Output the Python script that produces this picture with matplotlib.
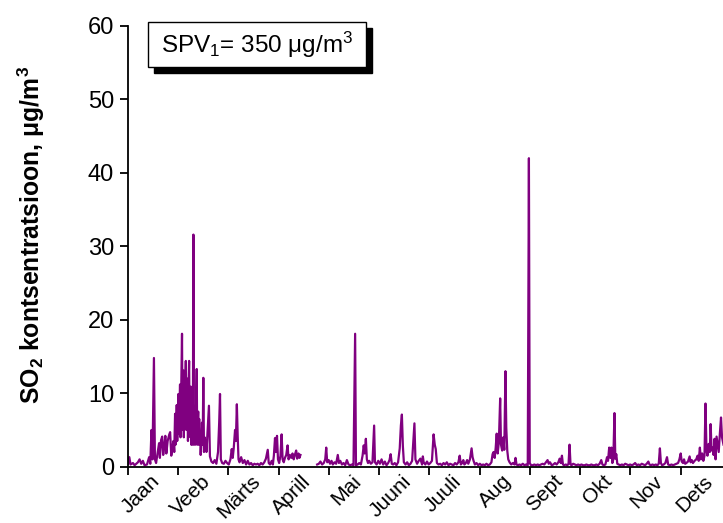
import matplotlib
matplotlib.use('Agg')
import matplotlib.pyplot as plt
import matplotlib.transforms as mtransforms
from matplotlib.patches import Rectangle
import numpy as np

plt.rcParams['font.family'] = ['Liberation Sans', 'DejaVu Sans']
plt.rcParams['mathtext.fontset'] = 'custom'
plt.rcParams['mathtext.rm'] = 'Liberation Sans'
plt.rcParams['mathtext.it'] = 'Liberation Sans:italic'
plt.rcParams['mathtext.bf'] = 'Liberation Sans:bold'

# ---- data: (day of year, SO2 concentration µg/m3) readings ----
months = ['Jaan', 'Veeb', 'Märts', 'Aprill', 'Mai', 'Juuni',
          'Juuli', 'Aug', 'Sept', 'Okt', 'Nov', 'Dets']

winter = [(0, 0.4), (0.8, 1.3), (1.5, 0.3), (3, 0.5), (4, 0.2), (6, 0.6), (7, 1.0), (8, 0.4),
          (9, 0.8), (10, 0.2), (11.5, 0.3), (12.8, 1.3), (13.5, 0.4), (14.2, 5.0), (14.8, 1.0),
          (15.7, 14.8), (16.3, 1.0), (17, 0.5), (18, 2.0), (18.8, 3.2), (19.3, 1.2), (20, 3.6),
          (20.7, 4.1), (21.3, 1.6), (22, 2.8), (22.6, 4.2), (23.2, 1.8), (24, 3.5), (25, 4.4),
          (25.5, 4.7), (26.2, 1.5), (27, 2.8), (27.5, 3.5), (28, 2.0), (28.3, 5.0), (28.5, 7.2),
          (28.8, 3.0), (29, 4.5), (29.3, 6.0), (29.5, 8.4), (29.8, 3.5), (30, 5.0), (30.3, 7.0),
          (30.5, 9.9), (30.8, 4.5), (31, 6.5), (31.3, 9.0), (31.5, 11.2), (31.8, 4.0), (32, 7.0),
          (32.3, 10.5), (32.7, 18.1), (33, 5.0), (33.2, 8.0), (33.6, 13.1), (33.8, 4.0), (34, 7.5),
          (34.3, 10.0), (34.5, 6.0), (34.8, 12.0), (35, 14.4), (35.3, 5.0), (35.5, 8.5), (35.8, 12.0),
          (36, 10.5), (36.3, 3.5), (36.5, 7.0), (36.8, 12.5), (37, 14.4), (37.3, 5.5), (37.5, 9.0),
          (37.8, 4.0), (38, 10.9), (38.3, 3.0), (38.7, 6.5), (39, 3.0), (39.3, 8.0), (39.6, 31.6),
          (39.9, 3.0), (40.2, 6.0), (40.5, 7.5), (40.8, 3.0), (41, 5.5), (41.3, 9.0), (41.6, 13.3),
          (41.9, 3.0), (42.1, 5.0), (42.5, 7.5), (42.8, 3.0), (43.1, 6.5), (43.4, 3.0), (43.7, 4.5),
          (44, 1.6), (44.4, 3.5), (44.8, 6.0), (45.2, 3.0), (45.6, 12.1), (46, 2.0), (46.4, 4.0),
          (46.8, 2.5), (47.2, 3.5), (47.5, 2.0), (48.3, 5.5), (49, 8.3), (49.6, 1.4), (50.5, 0.7),
          (51.5, 0.5), (52.5, 0.9), (53.5, 0.4), (54.5, 2.0), (55.2, 6.0), (55.7, 9.9), (56.2, 1.0),
          (57, 0.5), (58, 0.4), (59, 0.8)]

spring = [(60, 0.5), (61, 0.3), (62, 1.0), (62.8, 2.4), (63.4, 1.2), (64, 2.5), (64.8, 5.0),
          (65.3, 3.5), (65.9, 8.5), (66.4, 4.2), (66.9, 1.0), (67.5, 0.6), (68.5, 1.3), (69.5, 0.5),
          (70.5, 0.9), (71.5, 0.3), (72.5, 0.8), (73.5, 0.3), (74.5, 0.5), (75.5, 0.2), (76.5, 0.4),
          (77.5, 0.3), (78.5, 0.4), (79.5, 0.2), (80.5, 0.5), (81.5, 0.3), (82.5, 0.6), (83.5, 1.1),
          (84.6, 2.3), (85.2, 0.5), (86, 0.3), (87, 0.8), (87.7, 0.3), (88.3, 1.5), (89, 3.9),
          (89.5, 2.0), (90.2, 4.2), (90.8, 1.0), (91.5, 0.5), (92.3, 1.5), (93, 4.4), (93.6, 1.0),
          (94.3, 0.6), (95, 1.2), (95.8, 1.6), (96.6, 2.9), (97.2, 1.0), (98, 1.6), (98.8, 1.2),
          (99.6, 1.8), (100.3, 1.0), (101, 1.6), (101.8, 2.2), (102.4, 1.1), (103.2, 1.8),
          (103.8, 1.2), (104.4, 1.6)]

summer = [(114.5, 0.3), (115.5, 0.4), (116.5, 0.7), (117.5, 0.3), (118.5, 0.5), (119.4, 1.0),
          (120, 2.6), (120.6, 0.6), (121.5, 0.9), (122.3, 0.4), (123.2, 0.8), (124, 0.3), (125, 0.6),
          (126, 0.4), (127, 1.6), (127.7, 0.5), (128.5, 0.8), (129.5, 0.3), (130.5, 0.5), (131.5, 0.2),
          (132.5, 0.9), (133.5, 0.3), (134.5, 0.2), (135.5, 0.3), (136.5, 0.2), (137.5, 18.1),
          (138, 0.2), (139, 0.3), (140, 0.5), (141, 0.3), (142, 1.5), (142.7, 2.9), (143.3, 1.8),
          (144, 3.8), (144.6, 1.0), (145.3, 0.5), (146, 0.8), (147, 0.4), (148, 0.6), (149, 5.6),
          (149.5, 0.6), (150.5, 0.3), (151.5, 0.8), (152.5, 0.4), (153.5, 1.0), (154.5, 0.3),
          (155.5, 0.7), (156.5, 0.2), (157.5, 0.5), (158.3, 0.9), (159, 1.7), (159.7, 0.4),
          (160.5, 0.3), (161.5, 0.5), (162.5, 0.2), (163.5, 0.6), (164.5, 2.5), (165.2, 5.6),
          (165.8, 7.1), (166.4, 2.8), (167, 0.6), (168, 0.3), (169, 0.6), (170, 0.2), (171, 0.4),
          (172, 0.8), (173.4, 5.9), (174, 1.0), (175, 0.4), (176, 0.8), (177, 1.1), (178, 0.3),
          (178.5, 1.4), (179, 0.6), (180, 0.3), (181, 0.7), (182, 0.3), (183, 0.5), (184, 0.8),
          (185, 4.4), (185.7, 3.0), (186.3, 2.4), (187, 0.5), (188, 0.3), (189, 0.4), (190, 0.2),
          (191, 0.5), (192, 0.3), (193, 0.6), (194, 0.2), (195, 0.4), (196, 0.3), (197, 0.2),
          (198, 0.5), (199, 0.3), (200, 0.6), (200.8, 1.5), (201.5, 0.3), (202.3, 0.5), (203, 0.9),
          (203.6, 0.3), (204.5, 0.5), (205.3, 0.9), (206, 0.4), (207, 1.0), (208, 2.5), (208.6, 1.3),
          (209.2, 0.8), (210, 0.3), (211, 0.5), (212, 0.2), (213, 0.4), (214, 0.2), (215, 0.3),
          (216, 0.2), (217, 0.4), (218, 0.2), (219, 0.3), (220, 0.6), (220.7, 1.7), (221.3, 2.0),
          (222, 1.2), (222.6, 2.6), (223.2, 4.5), (223.8, 1.8), (224.5, 3.3), (225.3, 9.3),
          (225.8, 3.0), (226.5, 2.2), (227.2, 4.0), (227.8, 2.3), (228.5, 13.0), (229, 5.3),
          (229.6, 2.2), (230.2, 1.0), (231, 0.6), (232, 0.3), (233, 0.5), (234, 0.3), (234.6, 1.2),
          (235.2, 0.3), (236, 0.2), (237, 0.3), (238, 0.2), (239, 0.4), (240, 0.2), (241, 0.3),
          (242, 0.2)]

autumn = [(242.7, 42.0), (243.2, 0.5), (244, 0.2), (245, 0.2), (246, 0.3), (247, 0.2), (248, 0.3),
          (249, 0.2), (250, 0.3), (251, 0.4), (252, 0.3), (253, 0.6), (254, 0.9), (254.7, 0.4),
          (255.5, 0.6), (256.5, 0.2), (257.5, 0.3), (258.5, 0.5), (259.5, 0.3), (260.5, 0.6),
          (261.3, 1.1), (262, 0.5), (262.7, 1.5), (263.3, 0.3), (264, 0.2), (265, 0.3), (266, 0.2),
          (266.7, 0.4), (267.3, 3.0), (267.9, 0.3), (268.5, 0.2), (269.5, 0.4), (270.5, 0.3),
          (271.5, 0.2), (272.5, 0.3), (273.5, 0.2), (274.5, 0.3), (275.5, 0.2), (276.5, 0.2),
          (277.5, 0.3), (278.5, 0.2), (279.5, 0.2), (280.5, 0.3), (281.5, 0.2), (282.5, 0.2),
          (283.5, 0.3), (284.5, 0.2), (285.5, 0.4), (286.5, 0.9), (287.2, 0.3), (288, 0.2),
          (289, 0.3), (290, 1.3), (290.6, 0.8), (291.3, 2.6), (292, 1.2), (292.6, 2.6), (293.2, 0.5),
          (293.8, 1.0), (294.5, 7.3), (295, 1.1), (295.6, 1.7), (296.2, 0.4), (297, 0.3), (298, 0.2),
          (299, 0.3), (300, 0.2), (301, 0.4), (302, 0.3), (303, 0.2), (304, 0.3), (305, 0.2),
          (306, 0.3), (307, 0.5), (308, 0.2), (309, 0.3), (310, 0.2), (311, 0.4), (312, 0.3),
          (313, 0.2), (314, 0.4), (315, 0.7), (315.7, 0.3), (316.5, 0.2), (317.5, 0.3), (318.5, 0.2),
          (319.5, 0.3), (320.5, 0.2), (321.3, 0.4), (322, 2.5), (322.6, 0.5), (323.3, 0.2),
          (324.3, 0.3), (325.3, 0.5), (326.3, 1.3), (327, 0.3), (328, 0.2), (329, 0.3), (330, 0.2)]

december = [(331, 0.3), (332, 0.4), (333, 0.5), (333.8, 1.0), (334.6, 1.8), (335.2, 0.7), (336, 0.5),
            (336.6, 1.0), (337.3, 0.4), (338, 0.5), (339, 0.7), (340, 1.4), (340.6, 0.6), (341.3, 0.9),
            (342, 0.5), (343, 0.8), (344, 1.0), (344.8, 1.5), (345.5, 0.8), (346.2, 2.6), (346.8, 1.0),
            (347.6, 1.8), (348.3, 0.8), (349, 1.5), (349.6, 8.6), (350.2, 2.2), (350.8, 1.5),
            (351.5, 3.1), (352.2, 2.0), (352.7, 5.8), (353.3, 2.2), (353.9, 2.6), (354.5, 1.6),
            (355.1, 3.8), (355.7, 1.0), (356.3, 4.1), (357, 3.0), (357.6, 2.0), (358.3, 4.5),
            (359, 6.7), (359.6, 4.0), (360.5, 3.0)]

# ---- assemble series (gap in measurements between spring and summer) ----
days, vals = [], []
for seg in (winter, spring):
    days += [d for d, v in seg]
    vals += [v for d, v in seg]
days.append(np.nan)
vals.append(np.nan)
for seg in (summer, autumn, december):
    days += [d for d, v in seg]
    vals += [v for d, v in seg]

W, H = 723, 523
fig = plt.figure(figsize=(W / 100, H / 100), dpi=100)
ax = fig.add_axes([128 / W, 1 - 466.7 / H, 595 / W, (466.7 - 26) / H])

ax.plot(days, vals, color='#800080', lw=1.6, solid_joinstyle='round')

ax.set_xlim(0, 360.2)
ax.set_ylim(0, 60)
ax.set_yticks(range(0, 61, 10))
month_ticks = [i * 365 / 12 for i in range(12)]
ax.set_xticks(month_ticks)
ax.set_xticklabels(months, rotation=45, ha='right', va='top')

for s in ('top', 'right'):
    ax.spines[s].set_visible(False)
for s in ('left', 'bottom'):
    ax.spines[s].set_linewidth(1.3)
ax.tick_params(axis='both', direction='out', length=6, width=1.3)
ax.tick_params(axis='x', labelsize=15, pad=-2.5)
ax.tick_params(axis='y', labelsize=17, pad=4)

offset = mtransforms.ScaledTranslation(0.36, 0, fig.dpi_scale_trans)
for lab in ax.get_xticklabels():
    lab.set_transform(lab.get_transform() + offset)

ax.set_ylabel(r'SO$_\mathbf{2}$ kontsentratsioon, μg/m$^\mathbf{3}$',
              fontsize=17.8, fontweight='bold')
ax.yaxis.set_label_coords(-0.163, 0.527)
ax.yaxis.label.set_va('center')

# ---- limit-value box with drop shadow ----
bx, by, bw, bh = 0.0331, 0.9076, 0.3664, 0.1007
ax.add_patch(Rectangle((bx + 6 / 595, by - 6 / 440.7), bw, bh, transform=ax.transAxes,
                       facecolor='black', edgecolor='black', clip_on=False, zorder=5))
ax.add_patch(Rectangle((bx, by), bw, bh, transform=ax.transAxes,
                       facecolor='white', edgecolor='black', lw=1.0, clip_on=False, zorder=6))
ax.text(bx + bw / 2, by + bh / 2, r'SPV$_1$= 350 μg/m$^3$', transform=ax.transAxes,
        ha='center', va='center', fontsize=17.5, zorder=7)

fig.savefig('out.png', dpi=100)
